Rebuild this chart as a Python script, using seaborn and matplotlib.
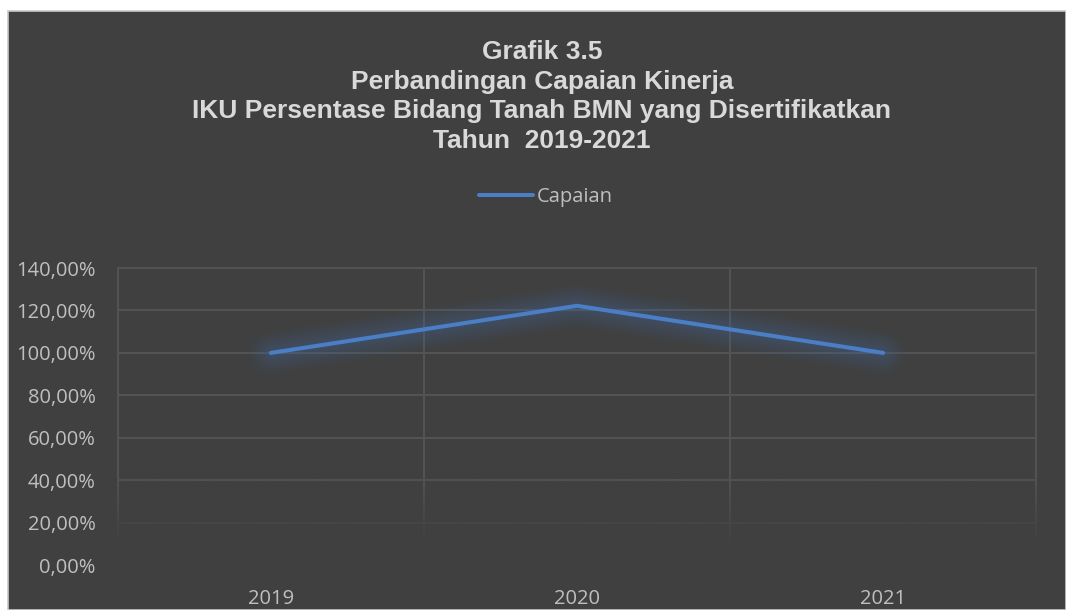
import matplotlib
matplotlib.use("Agg")
import matplotlib.pyplot as plt
import seaborn as sns
import numpy as np
import pandas as pd
from matplotlib.patches import Rectangle
from matplotlib.ticker import FuncFormatter, FixedLocator
from matplotlib.lines import Line2D

# ---- data ----
years = ["2019", "2020", "2021"]
capaian = [100.0, 122.2, 100.0]
series_name = "Capaian"
y_ticks = [0, 20, 40, 60, 80, 100, 120, 140]
title_lines = [
    "Grafik 3.5",
    "Perbandingan Capaian Kinerja",
    "IKU Persentase Bidang Tanah BMN yang Disertifikatkan",
    "Tahun  2019-2021",
]

# ---- style ----
BG = "#404040"
GRID = "#535353"
LINE = "#4a7fc6"
GLOW = "#3f6fae"
TITLE_C = "#d9d9d9"
TICK_C = "#bfbfbf"

sns.set_theme(style="dark")
plt.rcParams['font.family'] = ['Open Sans', 'DejaVu Sans']

W, H = 1066, 610
fig = plt.figure(figsize=(W / 100, H / 100), dpi=100, facecolor="white")
panel = Rectangle((8 / W, 0), 1 - 8 / W, (H - 11) / H, transform=fig.transFigure,
                  facecolor=BG, edgecolor="#c8c8c8", lw=1.2, zorder=-10)
fig.patches.append(panel)

ax = fig.add_axes([117 / W, (H - 565) / H, (1037 - 117) / W, (565 - 267) / H])
ax.set_zorder(1)
ax.set_facecolor(BG)

df = pd.DataFrame({"Tahun": years, "Capaian": capaian})

# soft glow around the line
for lw, a in [(30, 0.05), (25, 0.05), (20, 0.06), (15, 0.06), (10, 0.07), (6, 0.08)]:
    sns.lineplot(data=df, x="Tahun", y="Capaian", ax=ax, color=GLOW, linewidth=lw,
                 alpha=a, legend=False, solid_capstyle="round", zorder=3)
sns.lineplot(data=df, x="Tahun", y="Capaian", ax=ax, color=LINE, linewidth=2.9,
             legend=False, solid_capstyle="round", solid_joinstyle="miter", zorder=4)

# gradient fade at the bottom of the plot (grid fades out)
n = 200
ys = np.linspace(0.34, 0.0, n)
alpha = np.clip((0.30 - ys) / 0.23, 0, 1)
rgb = np.array(matplotlib.colors.to_rgb(BG))
img = np.zeros((n, 2, 4))
img[:, :, :3] = rgb
img[:, :, 3] = alpha[:, None]
ax.imshow(img, extent=[0, 1, 0, 0.34], transform=ax.transAxes, aspect="auto",
          zorder=1, interpolation="bilinear")

ax.set_xlim(-0.503, 2.503)
ax.set_ylim(0, 140.5)

ax.yaxis.set_major_locator(FixedLocator(y_ticks))
ax.yaxis.set_major_formatter(FuncFormatter(lambda v, _: f"{v:.2f}".replace(".", ",") + "%"))
ax.xaxis.set_minor_locator(FixedLocator([-0.5, 0.5, 1.5, 2.5]))
ax.set_axisbelow(True)
ax.grid(axis="y", which="major", color=GRID, lw=1.5)
ax.grid(axis="x", which="minor", color=GRID, lw=1.5)
ax.grid(axis="x", which="major", visible=False)
ax.tick_params(axis="both", which="both", length=0, labelsize=14.5, colors=TICK_C)
ax.tick_params(axis="y", pad=15.5)
ax.tick_params(axis="x", pad=17)
for s in ax.spines.values():
    s.set_visible(False)
ax.set_xlabel("")
ax.set_ylabel("")

# legend
handle = Line2D([], [], color=LINE, lw=2.9, solid_capstyle="round")
leg = ax.legend([handle], [series_name], loc="center",
                bbox_to_anchor=(546 / W, 1 - 197 / H), bbox_transform=fig.transFigure,
                frameon=False, fontsize=14.5, labelcolor=TICK_C,
                handlelength=2.7, handletextpad=0.2)

# title
baselines = [59, 88.5, 118, 147.5]
for txt, b in zip(title_lines, baselines):
    fig.text(542 / W, 1 - b / H, txt, ha="center", va="baseline",
             fontsize=19, fontweight="bold", color=TITLE_C,
             family=["Liberation Sans", "DejaVu Sans"])

fig.savefig("out.png", dpi=100, facecolor=fig.get_facecolor())
